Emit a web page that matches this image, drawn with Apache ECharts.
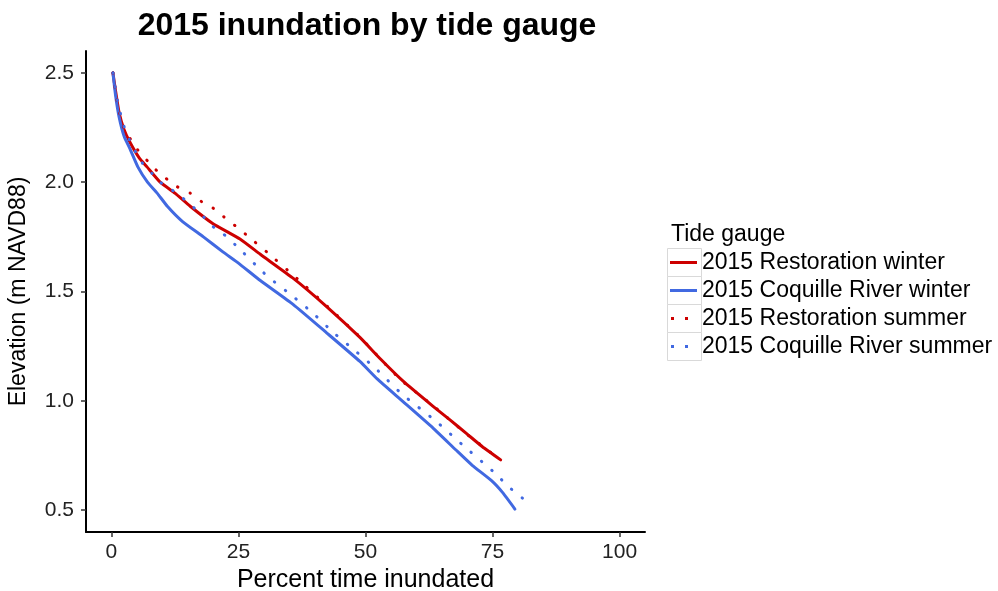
<!DOCTYPE html>
<html>
<head>
<meta charset="utf-8">
<script src="https://cdn.jsdelivr.net/npm/echarts@6/dist/echarts.min.js"></script>
<style>
html,body{margin:0;padding:0;background:#fff;}
#chart{width:998px;height:591px;}
</style>
</head>
<body>
<div id="chart"></div>
<script>
// ---- data (percent time inundated, elevation m NAVD88) ----
var seriesNames = ['2015 Restoration winter', '2015 Coquille River winter', '2015 Restoration summer', '2015 Coquille River summer'];
var xTicks = [0, 25, 50, 75, 100];
var yTicks = [0.5, 1.0, 1.5, 2.0, 2.5];

var restorationWinter = [
  [0.3,2.50],[0.8,2.42],[1.5,2.32],[2.5,2.24],[3.7,2.18],[5.5,2.11],[7.0,2.07],[9.6,2.00],
  [12.5,1.95],[15.5,1.89],[20.0,1.81],[25.3,1.74],[29.3,1.67],[35.8,1.56],[42.4,1.43],
  [48.9,1.29],[53.0,1.19],[57.4,1.09],[63.3,0.975],[66.5,0.915],[69.9,0.85],[73.0,0.79],[76.6,0.73]
];
var coquilleWinter = [
  [0.3,2.50],[0.8,2.40],[1.5,2.30],[2.5,2.21],[3.7,2.15],[5.2,2.07],[7.1,2.00],[9.0,1.95],
  [11.0,1.89],[14.0,1.82],[18.1,1.75],[22.0,1.68],[25.0,1.63],[29.3,1.55],[35.8,1.44],
  [42.4,1.31],[48.9,1.18],[52.3,1.10],[57.2,1.00],[63.3,0.875],[67.8,0.775],[71.0,0.705],
  [74.8,0.635],[77.0,0.58],[79.4,0.505]
];
var restorationSummer = [
  [0.3,2.50],[1.2,2.36],[2.4,2.25],[5.1,2.15],[8.6,2.06],[10.6,2.02],[12.9,1.98],[15.5,1.95],
  [17.8,1.91],[20.1,1.88],[22.2,1.84],[24.4,1.80],[26.5,1.76],[30.6,1.68],[36.5,1.56],
  [42.6,1.43],[49.0,1.29],[53.0,1.19],[57.2,1.09],[63.2,0.98],[69.8,0.85],[76.0,0.74]
];
var coquilleSummer = [
  [0.3,2.50],[1.2,2.37],[2.4,2.26],[4.0,2.17],[6.0,2.09],[8.0,2.04],[9.6,2.00],[11.6,1.97],
  [13.9,1.93],[15.9,1.89],[17.8,1.85],[19.8,1.80],[21.7,1.77],[25.0,1.70],[29.3,1.60],
  [31.2,1.56],[35.6,1.48],[39.7,1.40],[43.8,1.31],[47.9,1.23],[51.9,1.15],[57.2,1.03],
  [63.7,0.91],[69.5,0.79],[75.6,0.667],[78.0,0.61],[81.7,0.54],[82.5,0.53]
];

var RED = '#CD0000', BLUE = '#4169E1';
var FONT = '"Liberation Sans", Arial, sans-serif';
var SOLID_ICON = 'path://M0,0H27V3H0Z';
var DOT_ICON = 'path://M0,0L0,3L0,3Z M1,0h3v3h-3z M15,0h3v3h-3z M27,0L27,3L27,3Z';

var chart = echarts.init(document.getElementById('chart'));

function mkSeries(name, data, color, dotted) {
  return {
    name: name, type: 'line', data: data, symbol: 'none', showSymbol: false,
    animation: false, z: dotted ? 3 : 2, smooth: 0.15,
    lineStyle: dotted
      ? { color: color, width: 3, type: [0.5, 13.2], cap: 'round' }
      : { color: color, width: 3, cap: 'round', join: 'round' },
    itemStyle: { color: color }
  };
}

var boxes = [];
for (var i = 0; i < 4; i++) {
  boxes.push({
    type: 'rect', left: 667, top: 248 + i * 28, z: -1,
    shape: { width: 34, height: 28 },
    style: { fill: '#fff', stroke: '#d9d9d9', lineWidth: 1 }
  });
}

chart.setOption({
  backgroundColor: '#fff',
  animation: false,
  title: [
    { text: '2015 inundation by tide gauge', left: 362, top: 5, textAlign: 'center',
      textStyle: { fontFamily: FONT, fontSize: 32, fontWeight: 'bold', color: '#000' } },
    { text: 'Tide gauge', left: 666, top: 218,
      textStyle: { fontFamily: FONT, fontSize: 23, fontWeight: 'normal', color: '#000' } }
  ],
  graphic: boxes,
  legend: {
    orient: 'vertical', left: 670, top: 251, padding: 0,
    itemWidth: 27, itemHeight: 3, itemGap: 5,
    data: [
      { name: seriesNames[0], icon: SOLID_ICON },
      { name: seriesNames[1], icon: SOLID_ICON },
      { name: seriesNames[2], icon: DOT_ICON },
      { name: seriesNames[3], icon: DOT_ICON }
    ],
    textStyle: { fontFamily: FONT, fontSize: 23, color: '#000' }
  },
  grid: { left: 86, right: 353, top: 51, bottom: 59, containLabel: false, outerBoundsMode: 'none' },
  xAxis: {
    type: 'value', min: -5, max: 105,
    name: 'Percent time inundated', nameLocation: 'middle', nameGap: 32,
    nameTextStyle: { fontFamily: FONT, fontSize: 25, color: '#000' },
    axisLine: { onZero: false, lineStyle: { color: '#000', width: 2 } },
    axisTick: { show: true, length: 5, customValues: xTicks, lineStyle: { color: '#333', width: 1.5 } },
    axisLabel: { customValues: xTicks, margin: 10, fontFamily: FONT, fontSize: 21, color: '#222',
      formatter: function (v) { return String(v); } },
    splitLine: { show: false }
  },
  yAxis: {
    type: 'value', min: 0.4, max: 2.6,
    name: 'Elevation (m NAVD88)', nameLocation: 'middle', nameGap: 56,
    nameTextStyle: { fontFamily: FONT, fontSize: 23, color: '#000' },
    axisLine: { show: true, onZero: false, lineStyle: { color: '#000', width: 2 } },
    axisTick: { show: true, length: 5, customValues: yTicks, lineStyle: { color: '#333', width: 1.5 } },
    axisLabel: { customValues: yTicks, margin: 12, fontFamily: FONT, fontSize: 21, color: '#222',
      formatter: function (v) { return v.toFixed(1); } },
    splitLine: { show: false }
  },
  series: [
    mkSeries(seriesNames[0], restorationWinter, RED, false),
    mkSeries(seriesNames[1], coquilleWinter, BLUE, false),
    mkSeries(seriesNames[2], restorationSummer, RED, true),
    mkSeries(seriesNames[3], coquilleSummer, BLUE, true)
  ]
});
</script>
</body>
</html>
